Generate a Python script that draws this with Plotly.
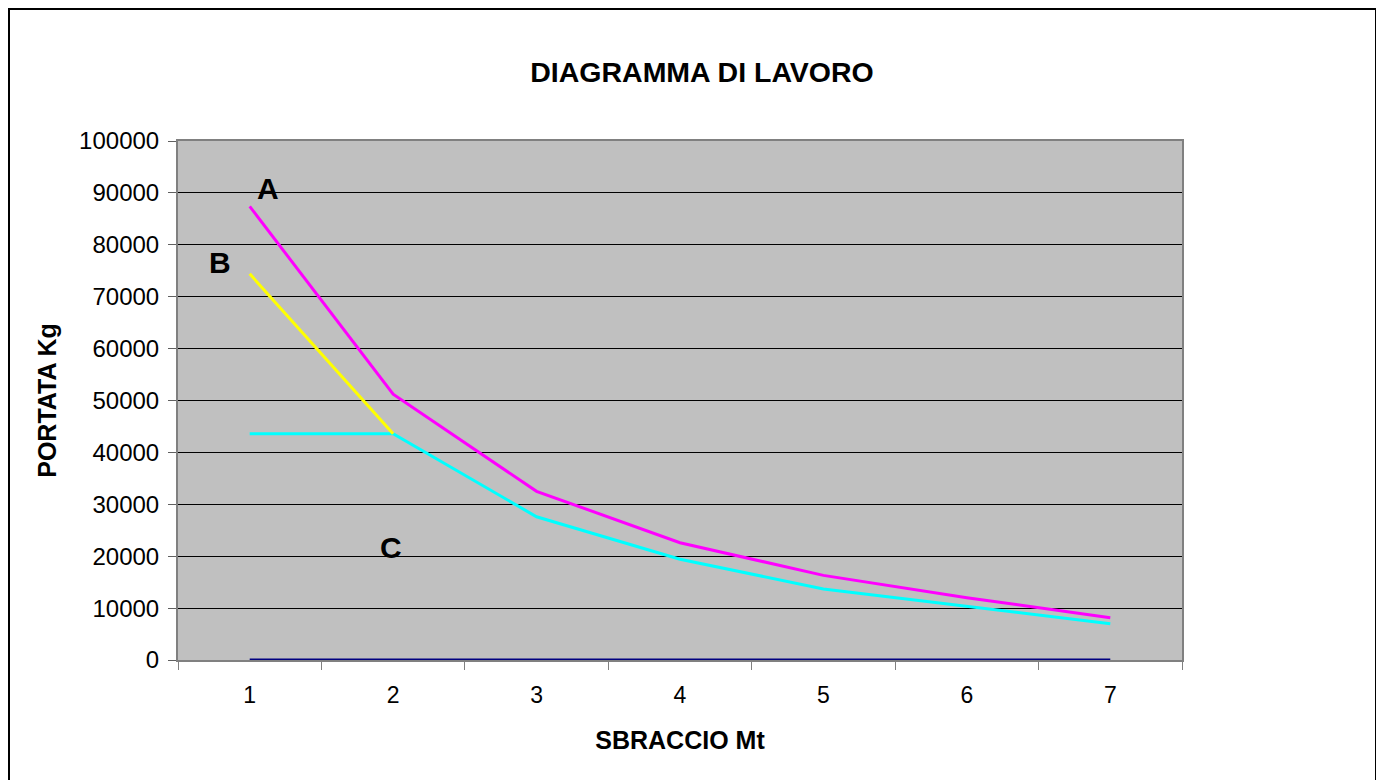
import plotly.graph_objects as go

categories = ["1", "2", "3", "4", "5", "6", "7"]
serie_a = [87400, 51200, 32500, 22600, 16300, 12000, 8150]
serie_b = [74400, 43600, None, None, None, None, None]
serie_c = [43600, 43600, 27600, 19400, 13700, 10300, 7000]
serie_zero = [0, 0, 0, 0, 0, 0, 0]
y_ticks = [0, 10000, 20000, 30000, 40000, 50000, 60000, 70000, 80000, 90000, 100000]
y_tick_text = [str(v) for v in y_ticks]

FONT = "Arial, Liberation Sans, sans-serif"
OFF = 8  # page body margin

fig = go.Figure()
fig.add_trace(go.Scatter(x=categories, y=serie_zero, mode="lines",
                         line=dict(color="#000080", width=3), showlegend=False))
fig.add_trace(go.Scatter(x=categories, y=serie_c, mode="lines",
                         line=dict(color="#00FFFF", width=3), showlegend=False))
fig.add_trace(go.Scatter(x=categories, y=serie_b, mode="lines",
                         line=dict(color="#FFFF00", width=3), showlegend=False))
fig.add_trace(go.Scatter(x=categories, y=serie_a, mode="lines",
                         line=dict(color="#FF00FF", width=3), showlegend=False))

fig.update_layout(
    width=1384, height=780,
    margin=dict(l=178 - OFF, r=1384 - 1004 - (178 - OFF), t=141 - OFF, b=780 - 519 - (141 - OFF)),
    paper_bgcolor="white", plot_bgcolor="#C0C0C0",
    font=dict(family=FONT, color="black", size=22),
    title=dict(text="<b>DIAGRAMMA DI LAVORO</b>", x=(702 - OFF) / 1384, xref="container",
               xanchor="center", y=1 - (72 - OFF) / 780, yref="container", yanchor="middle",
               font=dict(size=28.5, family=FONT, color="black")),
    xaxis=dict(type="category", tickson="boundaries", ticks="outside", ticklen=8,
               tickcolor="#808080", showgrid=False, showline=True, linecolor="#808080",
               linewidth=2, mirror=True, range=[-0.5, 6.5], ticklabelstandoff=13,
               tickfont=dict(size=23, family=FONT),
               title=dict(text="<b>SBRACCIO Mt</b>", font=dict(size=25, family=FONT), standoff=25)),
    yaxis=dict(range=[0, 100000], tickvals=y_ticks, ticktext=y_tick_text, ticks="outside", ticklen=8,
               tickcolor="#606060", showgrid=True, gridcolor="black", gridwidth=1,
               zeroline=False, showline=True, linecolor="#808080", linewidth=2, mirror=True,
               ticklabelstandoff=4,
               tickfont=dict(size=24, family=FONT),
               title=dict(text="<b>PORTATA Kg</b>", font=dict(size=25, family=FONT), standoff=15)),
    shapes=[dict(type="rect", xref="paper", yref="paper",
                 x0=(9 - 178) / 1004, x1=(1376 - 178) / 1004,
                 y0=(660 - 800) / 519, y1=(660 - 9) / 519,
                 line=dict(color="black", width=2), fillcolor="rgba(0,0,0,0)", layer="below")],
    annotations=[
        dict(text="<b>A</b>", xref="paper", yref="paper", x=(268 - 178) / 1004, y=(660 - 188) / 519,
             xanchor="center", yanchor="middle",
             showarrow=False, font=dict(size=30, family=FONT, color="black")),
        dict(text="<b>B</b>", xref="paper", yref="paper", x=(220 - 178) / 1004, y=(660 - 262) / 519,
             xanchor="center", yanchor="middle",
             showarrow=False, font=dict(size=30, family=FONT, color="black")),
        dict(text="<b>C</b>", xref="paper", yref="paper", x=(391 - 178) / 1004, y=(660 - 547) / 519,
             xanchor="center", yanchor="middle",
             showarrow=False, font=dict(size=30, family=FONT, color="black")),
    ],
)

fig.write_html("out.html")
